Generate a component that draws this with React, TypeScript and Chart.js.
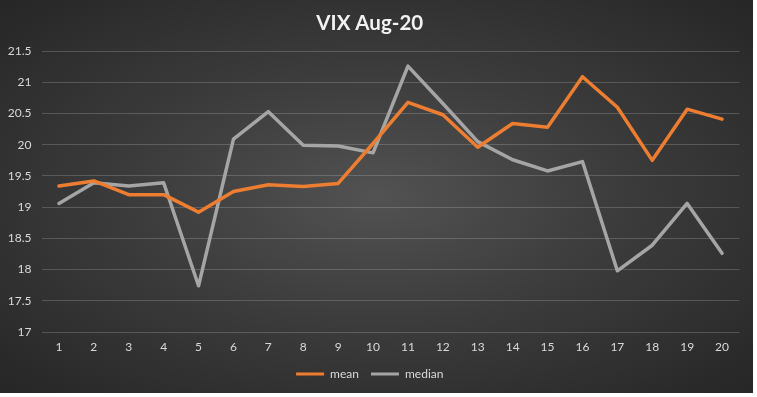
import React, { useEffect, useRef } from "react";
import { Chart, registerables } from "chart.js";

Chart.register(...registerables);

const categories = ["1","2","3","4","5","6","7","8","9","10","11","12","13","14","15","16","17","18","19","20"];
const meanValues = [19.34, 19.42, 19.2, 19.2, 18.92, 19.25, 19.36, 19.33, 19.38, 20.02, 20.68, 20.48, 19.96, 20.34, 20.28, 21.09, 20.6, 19.75, 20.57, 20.41];
const medianValues = [19.06, 19.39, 19.34, 19.39, 17.74, 20.09, 20.53, 19.99, 19.98, 19.87, 21.26, 20.66, 20.05, 19.76, 19.58, 19.73, 17.98, 18.39, 19.06, 18.26];
const seriesNames = ["mean", "median"];
const titleText = "VIX Aug-20";
const yMin = 17;
const yMax = 21.5;
const yStep = 0.5;

const FONT = "Lato, 'Open Sans', sans-serif";
const TEXT = "#d9d9d9";

export default function App() {
  const ref = useRef<HTMLCanvasElement | null>(null);
  useEffect(() => {
    if (!ref.current) return;
    const chart = new Chart(ref.current, {
      type: "line",
      data: {
        labels: categories,
        datasets: [
          {
            label: seriesNames[0],
            data: meanValues,
            borderColor: "#ED7D31",
            backgroundColor: "#ED7D31",
            borderWidth: 3.5,
            pointRadius: 0,
            tension: 0,
            borderJoinStyle: "round",
            borderCapStyle: "round",
          },
          {
            label: seriesNames[1],
            data: medianValues,
            borderColor: "#A5A5A5",
            backgroundColor: "#A5A5A5",
            borderWidth: 3.5,
            pointRadius: 0,
            tension: 0,
            borderJoinStyle: "round",
            borderCapStyle: "round",
          },
        ],
      },
      options: {
        responsive: false,
        animation: false,
        layout: { padding: { left: 0, right: 13.5, top: 0, bottom: 3 } },
        plugins: {
          title: {
            display: true,
            text: titleText,
            color: "#f2f2f2",
            font: { family: FONT, size: 20.5, weight: "bold" },
            padding: { top: 11, bottom: 15.5 },
          },
          legend: {
            display: true,
            position: "bottom",
            labels: {
              color: TEXT,
              font: { family: FONT, size: 12 },
              boxWidth: 28,
              boxHeight: 3,
              padding: 12,
              generateLabels: (c: any) =>
                c.data.datasets.map((ds: any, i: number) => ({
                  text: ds.label,
                  fillStyle: ds.borderColor,
                  strokeStyle: ds.borderColor,
                  lineWidth: 0,
                  fontColor: TEXT,
                  datasetIndex: i,
                  hidden: false,
                })),
            },
          },
          tooltip: { enabled: false },
        },
        scales: {
          x: {
            offset: true,
            grid: { display: false, drawTicks: false },
            border: { display: false },
            ticks: { color: TEXT, font: { family: FONT, size: 12 }, padding: 8, maxRotation: 0, autoSkip: false },
            afterFit: (s: any) => { s.height = 24; },
          },
          y: {
            min: yMin,
            max: yMax,
            grid: { color: "rgba(217,217,217,0.22)", lineWidth: 1, drawTicks: false },
            border: { display: false },
            ticks: {
              stepSize: yStep,
              color: TEXT,
              font: { family: FONT, size: 12 },
              padding: 10,
              callback: (v: any) => String(Number(v)),
            },
            afterFit: (s: any) => { s.width = 41.5; },
          },
        },
      },
    });
    return () => chart.destroy();
  }, []);

  return (
    <div
      style={{
        position: "absolute",
        left: 0,
        top: 0,
        width: 753,
        height: 393,
        background: "radial-gradient(ellipse farthest-corner at 50% 50%, #525252 0%, #3c3c3c 45%, #262626 100%)",
      }}
    >
      <canvas ref={ref} width={753} height={393} style={{ display: "block" }} />
    </div>
  );
}
